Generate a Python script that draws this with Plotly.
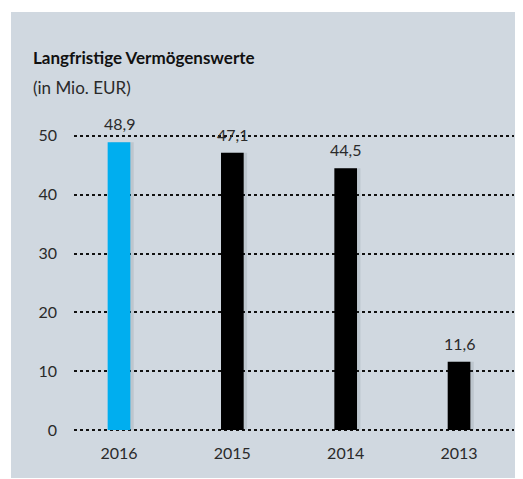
import plotly.graph_objects as go

categories = ["2016", "2015", "2014", "2013"]
values = [48.9, 47.1, 44.5, 11.6]
labels = ["48,9", "47,1", "44,5", "11,6"]
colors = ["#00aeef", "#000000", "#000000", "#000000"]
y_ticks = [0, 10, 20, 30, 40, 50]

x_pos = list(range(len(categories)))
# page has an 8px body margin, so the figure starts at (8, 8)
W, H = 515, 471
L, R, T, B = 66, 9, 116, 43
PW, PH = W - L - R, H - T - B
FONT = "Lato, 'Open Sans', sans-serif"
TXT = "#2a2a2a"


def px(xf):
    return (xf - L) / PW


def py(yf):
    return (H - B - yf) / PH


fig = go.Figure()

# soft shadow behind bars
fig.add_trace(go.Bar(
    x=x_pos, y=values, width=0.2, offset=-0.1 + 0.03,
    marker=dict(color="rgba(60,70,80,0.12)", line=dict(width=0)),
    hoverinfo="skip", showlegend=False,
))
fig.add_trace(go.Bar(
    x=x_pos, y=values, width=0.2, offset=-0.1,
    marker=dict(color=colors, line=dict(width=0)),
    showlegend=False,
))

annotations = [
    dict(text="<b>Langfristige Vermögenswerte</b>", xref="paper", yref="paper",
         x=px(23), y=py(49), xanchor="left", yanchor="middle",
         showarrow=False, font=dict(family=FONT, size=17, color="#111111")),
    dict(text="(in Mio. EUR)", xref="paper", yref="paper",
         x=px(23), y=py(80), xanchor="left", yanchor="middle",
         showarrow=False, font=dict(family=FONT, size=17, color=TXT)),
]
for xi, v, lab in zip(x_pos, values, labels):
    annotations.append(dict(
        text=lab, x=xi, y=v, xref="x", yref="y", xanchor="center",
        yanchor="bottom", yshift=7, showarrow=False,
        font=dict(family=FONT, size=16, color=TXT),
    ))

fig.update_layout(
    width=W, height=H,
    margin=dict(l=L, r=R, t=T, b=B),
    paper_bgcolor="white",
    plot_bgcolor="rgba(0,0,0,0)",
    barmode="overlay",
    font=dict(family=FONT, size=16, color=TXT),
    shapes=[dict(type="rect", xref="paper", yref="paper", layer="below",
                 x0=px(3), x1=px(W), y0=py(470), y1=py(4),
                 fillcolor="#d0d8e0", line=dict(width=0))],
    annotations=annotations,
)
fig.update_xaxes(
    range=[-0.397, 3.485], tickmode="array", tickvals=x_pos, ticktext=categories,
    showgrid=False, zeroline=False, showline=False, ticks="",
    ticklabelstandoff=6, tickfont=dict(size=16, color=TXT),
)
fig.update_yaxes(
    range=[-1, 52], tickmode="array", tickvals=y_ticks,
    ticktext=[str(v) for v in y_ticks],
    showgrid=True, gridcolor="#111111", gridwidth=1.6, griddash="dot",
    zeroline=False, showline=False, ticks="", ticklabelstandoff=16,
    tickfont=dict(size=16, color=TXT),
)

fig.write_html("out.html")
